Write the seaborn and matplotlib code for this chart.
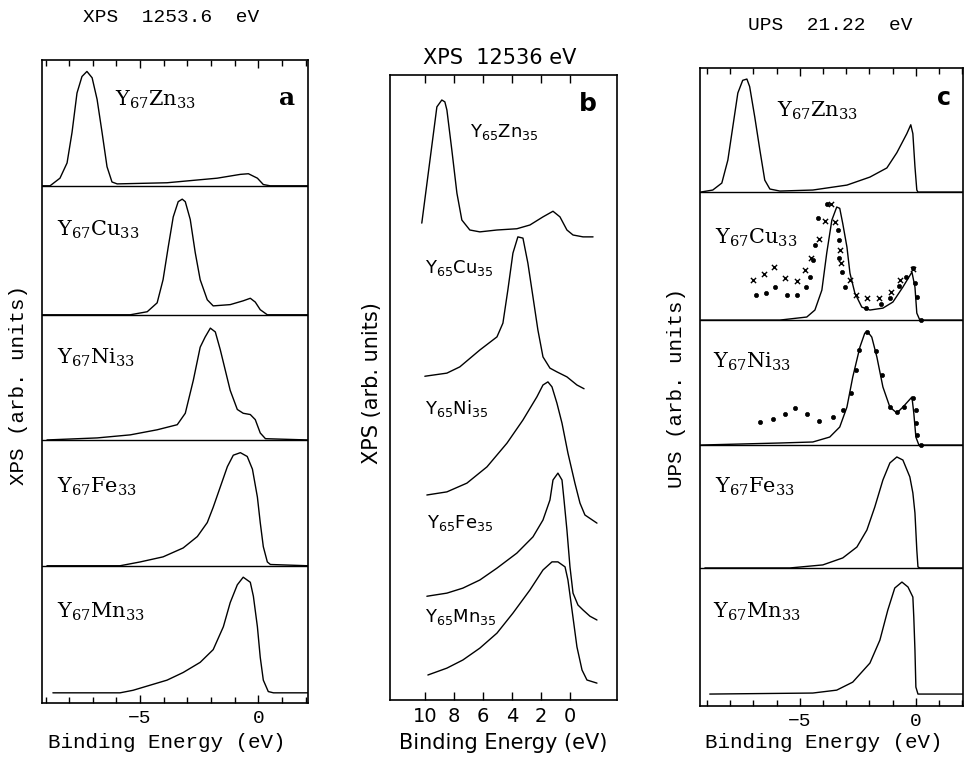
import matplotlib
matplotlib.use("Agg")
import numpy as np
import pandas as pd
import seaborn as sns
import matplotlib.pyplot as plt
from matplotlib.ticker import MultipleLocator, FixedLocator

# ---- panel a: XPS 1253.6 eV, Y67X33 (energy eV, intensity % of strip height) ----
a_zn_e = [-9.15, -8.81, -8.39, -8.09, -7.88, -7.67, -7.46, -7.25, -7.03, -6.82, -6.61, -6.40,
          -6.19, -5.97, -3.86, -1.74, -0.76, -0.42, -0.04, 0.21, 0.50, 2.10]
a_zn_i = [0, 0, 6, 18, 42, 73, 86, 90, 85, 68, 42, 15, 3, 1.5, 2.4, 6, 9, 9.5, 6, 1, 0, 0]

a_cu_e = [-9.15, -5.42, -4.70, -4.28, -4.03, -3.81, -3.60, -3.39, -3.22, -3.09, -2.88, -2.67,
          -2.46, -2.16, -1.91, -1.19, -0.64, -0.34, -0.13, 0.08, 0.38, 2.10]
a_cu_i = [0, 0, 2.4, 9.4, 27.6, 53.5, 77, 89, 91, 89, 75, 49, 27.6, 11.8, 7, 8, 11, 13, 10, 4, 0, 0]

a_ni_e = [-8.94, -6.82, -5.42, -4.28, -3.43, -3.09, -2.75, -2.46, -2.25, -2.03, -1.82, -1.61,
          -1.40, -1.19, -0.89, -0.64, -0.34, -0.13, 0.08, 0.30, 2.10]
a_ni_i = [0, 1.6, 4, 8, 12, 21, 47, 73, 81, 88, 85, 71, 55, 39, 24, 21, 20, 16, 5.5, 1, 0]

a_fe_e = [-8.94, -5.85, -5.00, -4.03, -3.18, -2.58, -2.16, -1.91, -1.61, -1.31, -1.06, -0.76,
          -0.47, -0.25, -0.04, 0.08, 0.21, 0.38, 0.51, 2.10]
a_fe_i = [0, 0, 3, 7, 14, 23, 34, 46, 62, 78, 87, 89, 86, 76, 54, 34, 15, 3, 1, 0]

a_mn_e = [-8.69, -5.85, -5.30, -4.58, -3.86, -3.18, -2.46, -1.91, -1.48, -1.19, -0.89, -0.64,
          -0.34, -0.21, -0.04, 0.08, 0.21, 0.42, 0.64, 2.10]
a_mn_i = [0, 0, 2, 6, 10, 16, 24, 34, 52, 71, 85, 91, 87, 76, 52, 28, 10, 1, 0, 0]

a_offsets = [407, 305.5, 207, 108, 8]
a_names = ["Y$_{67}$Zn$_{33}$", "Y$_{67}$Cu$_{33}$", "Y$_{67}$Ni$_{33}$",
           "Y$_{67}$Fe$_{33}$", "Y$_{67}$Mn$_{33}$"]

# ---- panel b: XPS 12536 eV, Y65X35 (energy eV, stacked intensity) ----
b_zn_e = [10.21, 9.17, 8.83, 8.62, 8.48, 8.14, 7.79, 7.45, 6.90, 6.21, 5.03, 3.66, 2.76,
          1.86, 1.17, 0.69, 0.21, -0.21, -0.90, -1.59]
b_zn_y = [76.3, 94.9, 96.0, 95.7, 94.4, 88.0, 81.1, 76.8, 75.2, 74.9, 75.2, 75.4, 76.0,
          77.3, 78.2, 77.3, 75.2, 74.4, 74.1, 74.1]

b_cu_e = [10.0, 8.48, 7.59, 6.21, 5.03, 4.62, 4.28, 3.93, 3.59, 3.24, 2.90, 2.55, 2.21,
          1.86, 1.38, 0.90, 0.21, -0.48, -0.97]
b_cu_y = [51.8, 52.3, 53.3, 56.0, 58.1, 60.3, 65.6, 71.5, 74.1, 73.9, 69.9, 64.5, 59.2,
          54.9, 53.1, 52.5, 51.7, 50.4, 49.8]

b_ni_e = [9.86, 8.48, 7.10, 5.72, 4.34, 3.24, 2.28, 1.86, 1.52, 1.24, 0.90, 0.55, 0.14,
          -0.34, -0.69, -1.03, -1.86]
b_ni_y = [32.8, 33.3, 34.7, 37.3, 41.1, 44.8, 48.5, 50.4, 50.9, 50.1, 47.5, 44.3, 39.5,
          34.7, 31.5, 29.6, 28.3]

b_fe_e = [9.86, 8.48, 7.38, 6.21, 5.03, 3.66, 2.55, 1.86, 1.38, 1.17, 0.83, 0.55, 0.41,
          0.21, 0.0, -0.21, -0.55, -0.90, -1.38, -1.86]
b_fe_y = [16.6, 17.1, 17.9, 19.2, 21.1, 23.5, 26.1, 28.8, 32.0, 35.2, 36.3, 35.2, 32.0,
          27.2, 21.3, 17.1, 15.2, 14.4, 13.4, 12.8]

b_mn_e = [9.79, 8.48, 7.38, 6.21, 5.03, 3.93, 2.76, 1.86, 1.24, 0.83, 0.34, 0.14, -0.14,
          -0.48, -0.83, -1.17, -1.86]
b_mn_y = [4.0, 5.1, 6.4, 8.3, 10.7, 13.9, 17.6, 20.8, 22.1, 22.1, 21.3, 19.2, 14.4,
          8.5, 4.8, 3.2, 2.7]

b_names = ["Y$_{65}$Zn$_{35}$", "Y$_{65}$Cu$_{35}$", "Y$_{65}$Ni$_{35}$",
           "Y$_{65}$Fe$_{35}$", "Y$_{65}$Mn$_{35}$"]

# ---- panel c: UPS 21.22 eV ----
c_zn_e = [-9.27, -8.75, -8.36, -8.10, -7.89, -7.67, -7.46, -7.28, -7.16, -6.94, -6.72, -6.51,
          -6.29, -5.86, -4.44, -2.97, -1.98, -1.25, -0.82, -0.39, -0.22, -0.13, -0.04, 0.04,
          0.09, 2.03]
c_zn_i = [0, 1.6, 7.1, 25.2, 51, 78, 88, 89, 83, 59, 33, 9.4, 2.4, 0.8, 1.6, 5.5, 11.8, 19,
          31, 46, 53, 46, 20, 1.6, 0, 0]

c_cu_e = [-9.27, -5.86, -4.70, -4.35, -4.05, -3.84, -3.62, -3.41, -3.28, -3.15, -2.97, -2.84,
          -2.63, -2.33, -1.98, -1.42, -0.99, -0.56, -0.17, -0.04, 0.04, 0.17, 2.03]
c_cu_i = [0, 0, 2.4, 7.9, 23.6, 52.8, 78.7, 89, 88, 76, 57.5, 37, 21.3, 10.2, 7.9, 9.4, 14.2,
          26, 37.8, 26, 5.5, 0, 0]
# measured points (dots and crosses)
c_cu_dot_e = [-6.90, -6.44, -6.06, -5.57, -5.14, -4.75, -4.57, -4.45, -4.35, -4.21, -3.81,
              -3.35, -3.30, -3.30, -3.20, -3.06, -2.13, -1.52, -1.12, -0.72, -0.43, -0.12,
              -0.04, 0.03, 0.24]
c_cu_dot_i = [19.7, 21.0, 25.7, 19.7, 19.7, 26.2, 34.1, 47.2, 59.1, 80.1, 91.3, 70.9, 63.0,
              48.6, 38.0, 26.2, 9.2, 12.6, 17.1, 26.8, 34.1, 40.7, 28.9, 18.4, 0]
c_cu_x_e = [-7.01, -6.54, -6.12, -5.63, -5.14, -4.78, -4.50, -4.17, -3.92, -3.65, -3.49, -3.28,
            -3.23, -2.84, -2.56, -2.10, -1.58, -1.09, -0.69, -0.14]
c_cu_x_i = [31.5, 36.0, 41.5, 32.8, 30.9, 39.4, 48.6, 63.5, 78.2, 91.3, 77.4, 55.1, 44.6,
            31.5, 19.7, 17.1, 17.1, 22.3, 31.5, 39.9]

c_ni_e = [-9.27, -5.86, -4.44, -3.71, -3.28, -2.97, -2.72, -2.41, -2.20, -2.07, -1.90, -1.68,
          -1.42, -1.12, -0.82, -0.56, -0.17, -0.09, 0.0, 0.13, 2.03]
c_ni_i = [0, 1.6, 2.4, 6.3, 14.2, 29.9, 53.5, 77.2, 88.2, 89.0, 85.0, 69.3, 45.7, 29.9, 25.2,
          29.9, 37.8, 25.2, 6.3, 0, 0]
c_ni_dot_e = [-6.72, -6.15, -5.62, -5.19, -4.67, -4.17, -3.56, -3.16, -2.80, -2.60, -2.44,
              -2.10, -1.72, -1.45, -1.12, -0.83, -0.52, -0.14, 0.0, 0.0, 0.03, 0.22]
c_ni_dot_i = [17.9, 20.2, 24.2, 28.9, 24.2, 19.1, 21.8, 27.6, 40.7, 59.1, 74.8, 89.2, 74.3,
              55.1, 30.2, 26.2, 30.2, 36.8, 27.6, 17.1, 7.9, 0]

c_fe_e = [-9.09, -5.43, -4.01, -3.15, -2.54, -2.11, -1.77, -1.42, -1.12, -0.82, -0.56, -0.26,
          -0.13, -0.04, 0.04, 0.09, 0.17, 2.03]
c_fe_i = [0, 0, 2.4, 7.9, 16.5, 29.9, 48.0, 69.3, 82.7, 87.4, 85.0, 71.7, 59.1, 43.3, 14.2,
          0.8, 0, 0]

c_mn_e = [-8.88, -4.44, -3.41, -2.72, -1.98, -1.55, -1.21, -0.91, -0.60, -0.34, -0.13, -0.09,
          -0.04, 0.0, 0.09, 2.03]
c_mn_i = [0, 0.8, 3.1, 9.4, 24.4, 42.5, 66.1, 83.5, 88.2, 84.3, 76.4, 60.6, 34.6, 5.5, 0, 0]

c_offsets = [404.7, 303.9, 205.5, 108.7, 9.4]
c_names = a_names

MONO = "Liberation Mono"
SERIF = "DejaVu Serif"
SANS = "DejaVu Sans"

sns.set_theme(style="ticks")
plt.rcParams["font.family"] = [SANS]
plt.rcParams["axes.linewidth"] = 1.2

W, H = 969, 761
fig = plt.figure(figsize=(W / 100, H / 100), dpi=100)


def box(x0, y0, x1, y1):
    # pixel box -> figure fraction
    return [x0 / W, 1 - y1 / H, (x1 - x0) / W, (y1 - y0) / H]


ax_a = fig.add_axes(box(42, 60, 308, 703))
ax_b = fig.add_axes(box(390, 75, 617, 700))
ax_c = fig.add_axes(box(700, 68, 963, 706))


def curve(ax, e, y, off=0.0):
    df = pd.DataFrame({"E": e, "I": np.asarray(y, float) + off})
    sns.lineplot(data=df, x="E", y="I", ax=ax, color="black", linewidth=1.0,
                 sort=False, estimator=None)


def style_axis(ax, font, size):
    ax.set_xlabel("")
    ax.set_ylabel("")
    ax.set_yticks([])
    for s in ax.spines.values():
        s.set_visible(True)
        s.set_color("black")
        s.set_linewidth(1.2)
    ax.tick_params(axis="x", which="both", direction="in", top=True, bottom=True,
                   color="black", width=1.0)
    ax.tick_params(axis="x", which="major", length=6, pad=5)
    ax.tick_params(axis="x", which="minor", length=4)
    for t in ax.get_xticklabels():
        t.set_fontfamily(font)
        t.set_fontsize(size)
        t.set_color("black")


# panel a
a_curves = [(a_zn_e, a_zn_i), (a_cu_e, a_cu_i), (a_ni_e, a_ni_i), (a_fe_e, a_fe_i), (a_mn_e, a_mn_i)]
for (e, i), off in zip(a_curves, a_offsets):
    curve(ax_a, e, i, off)
for off in a_offsets[:4]:
    ax_a.axhline(off, color="black", lw=1.0)
ax_a.set_xlim(-9.15, 2.1)
ax_a.set_ylim(0, 506)
ax_a.xaxis.set_major_locator(FixedLocator([-5, 0]))
ax_a.xaxis.set_minor_locator(MultipleLocator(1))
style_axis(ax_a, MONO, 14)
a_lab_pos = [(-6.06, 475), (-8.52, 372), (-8.52, 272), (-8.52, 170), (-8.52, 72)]
for name, (x, y) in zip(a_names, a_lab_pos):
    ax_a.text(x, y, name, family=SERIF, math_fontfamily="dejavuserif", fontsize=15,
              ha="left", va="center", color="black")
ax_a.text(1.23, 476, "a", family=SERIF, fontweight="bold", fontsize=18, ha="center",
          va="center", color="black")

# panel b
b_curves = [(b_zn_e, b_zn_y), (b_cu_e, b_cu_y), (b_ni_e, b_ni_y), (b_fe_e, b_fe_y), (b_mn_e, b_mn_y)]
for e, y in b_curves:
    curve(ax_b, e, y)
ax_b.set_xlim(12.4, -3.24)
ax_b.set_ylim(0, 100)
ax_b.set_xticks([10, 8, 6, 4, 2, 0])
style_axis(ax_b, SANS, 14)
b_lab_pos = [(6.9, 90.9), (10.0, 69.1), (10.0, 46.7), (9.86, 28.3), (10.0, 13.3)]
for name, (x, y) in zip(b_names, b_lab_pos):
    ax_b.text(x, y, name, family=SANS, fontsize=13, ha="left", va="center", color="black")
ax_b.text(-1.24, 95.4, "b", family=SANS, fontweight="bold", fontsize=18, ha="center",
          va="center", color="black")

# panel c
c_curves = [(c_zn_e, c_zn_i), (c_cu_e, c_cu_i), (c_ni_e, c_ni_i), (c_fe_e, c_fe_i), (c_mn_e, c_mn_i)]
for (e, i), off in zip(c_curves, c_offsets):
    curve(ax_c, e, i, off)
for off in c_offsets[:4]:
    ax_c.axhline(off, color="black", lw=1.0)
sns.scatterplot(x=c_cu_dot_e, y=np.array(c_cu_dot_i) + c_offsets[1], ax=ax_c, marker="o",
                s=9, color="black", edgecolor="black", linewidth=0.5)
sns.scatterplot(x=c_cu_x_e, y=np.array(c_cu_x_i) + c_offsets[1], ax=ax_c, marker="x",
                s=14, color="black", linewidth=1.0)
sns.scatterplot(x=c_ni_dot_e, y=np.array(c_ni_dot_i) + c_offsets[2], ax=ax_c, marker="o",
                s=9, color="black", edgecolor="black", linewidth=0.5)
ax_c.set_xlim(-9.3, 2.03)
ax_c.set_ylim(0, 502.4)
ax_c.xaxis.set_major_locator(FixedLocator([-5, 0]))
ax_c.xaxis.set_minor_locator(MultipleLocator(1))
style_axis(ax_c, MONO, 14)
c_lab_pos = [(-5.99, 469), (-8.66, 368.5), (-8.75, 271), (-8.66, 172.4), (-8.75, 74)]
for name, (x, y) in zip(c_names, c_lab_pos):
    ax_c.text(x, y, name, family=SERIF, math_fontfamily="dejavuserif", fontsize=15,
              ha="left", va="center", color="black")
ax_c.text(1.2, 478.7, "c", family=SANS, fontweight="bold", fontsize=17, ha="center",
          va="center", color="black")

# titles and axis labels placed in pixel positions
def ftext(x, y, s, **kw):
    fig.text(x / W, 1 - y / H, s, ha="center", va="center", color="black", **kw)


ftext(171, 18, "XPS  1253.6  eV", family=MONO, fontsize=14)
ftext(500, 58, "XPS  12536 eV", family=SANS, fontsize=15)
ftext(830, 26, "UPS  21.22  eV", family=MONO, fontsize=14)

ftext(167, 743, "Binding Energy (eV)", family=MONO, fontsize=15)
ftext(503, 743, "Binding Energy (eV)", family=SANS, fontsize=15)
ftext(824, 743, "Binding Energy (eV)", family=MONO, fontsize=15)

ftext(19, 385, "XPS (arb. units)", family=MONO, fontsize=15, rotation=90)
ftext(372, 383, "XPS (arb. units)", family=SANS, fontsize=15, rotation=90)
ftext(676, 388, "UPS (arb. units)", family=MONO, fontsize=15, rotation=90)

fig.savefig("out.png", dpi=100, facecolor="white")
